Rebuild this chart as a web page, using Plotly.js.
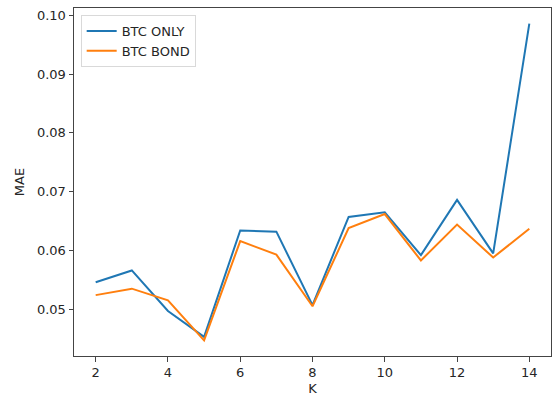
<!DOCTYPE html>
<html>
<head>
<meta charset="utf-8">
<script src="https://cdn.plot.ly/plotly-3.0.1.min.js"></script>
<style>html,body{margin:0;padding:0;background:#fff;}#chart{width:553px;height:396px;}</style>
</head>
<body>
<div id="chart"></div>
<script>
const kValues = [2, 3, 4, 5, 6, 7, 8, 9, 10, 11, 12, 13, 14];
const btcOnly = [0.0546, 0.0566, 0.0497, 0.0453, 0.0634, 0.0632, 0.0507, 0.0657, 0.0665, 0.0592, 0.0686, 0.0595, 0.0986];
const btcBond = [0.0524, 0.0535, 0.0515, 0.0447, 0.0616, 0.0593, 0.0505, 0.0638, 0.0662, 0.0583, 0.0644, 0.0588, 0.0637];
const seriesNames = ["BTC ONLY", "BTC BOND"];
const xTicks = [2, 4, 6, 8, 10, 12, 14];
const yTicks = [0.05, 0.06, 0.07, 0.08, 0.09, 0.10];
const yTickText = ["0.05", "0.06", "0.07", "0.08", "0.09", "0.10"];

const font = {family: "DejaVu Sans", size: 13, color: "#262626"};
const traces = [
  {x: kValues, y: btcOnly, name: seriesNames[0], mode: "lines", line: {color: "#1f77b4", width: 2}},
  {x: kValues, y: btcBond, name: seriesNames[1], mode: "lines", line: {color: "#ff7f0e", width: 2}}
];
const layout = {
  width: 553, height: 396,
  margin: {l: 74, r: 2, t: 8, b: 40},
  paper_bgcolor: "#fff", plot_bgcolor: "#fff",
  font: font,
  showlegend: true,
  legend: {x: 0.014, y: 0.98, xanchor: "left", yanchor: "top", bgcolor: "#fff", bordercolor: "#d9d9d9", borderwidth: 1, font: font, tracegroupgap: 0},
  xaxis: {
    range: [1.4, 14.6], tickvals: xTicks, ticktext: xTicks.map(String),
    showgrid: false, zeroline: false, showline: true, mirror: true, linecolor: "#444", linewidth: 1,
    ticks: "outside", ticklen: 4.5, tickcolor: "#444", tickfont: font,
    title: {text: "K", font: font, standoff: 5}
  },
  yaxis: {
    range: [0.04204, 0.10126], tickvals: yTicks, ticktext: yTickText,
    showgrid: false, zeroline: false, showline: true, mirror: true, linecolor: "#444", linewidth: 1,
    ticks: "outside", ticklen: 4.5, tickcolor: "#444", tickfont: font,
    title: {text: "MAE", font: font, standoff: 9}
  }
};
Plotly.newPlot("chart", traces, layout, {staticPlot: true, displayModeBar: false});
</script>
</body>
</html>
